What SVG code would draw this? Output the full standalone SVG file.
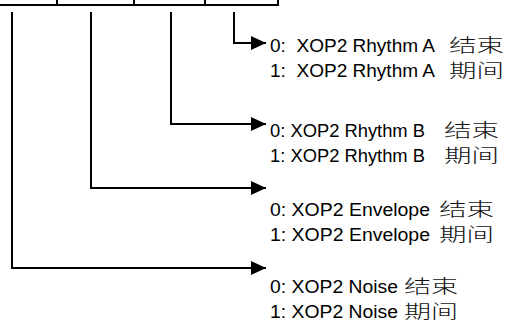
<svg xmlns="http://www.w3.org/2000/svg" width="505" height="325" viewBox="0 0 505 325">
<style>
.ln{fill:none;stroke:#000;stroke-width:2}
.t{font-family:"Liberation Sans",Arial,sans-serif;font-size:17.5px;fill:#000;white-space:pre}
.c{font-family:"Noto Sans CJK SC",sans-serif;font-size:18.5px;font-weight:300;fill:#111}
</style>
<defs>
<marker id="ah" markerUnits="userSpaceOnUse" markerWidth="16" markerHeight="16" viewBox="0 0 16 16" refX="15" refY="8" orient="auto">
<path d="M0,1 L15,8 L0,15 Z" fill="#000"/>
</marker>
</defs>
<g id="register">
<path class="ln" d="M0,5 H279 M57,0 V5 M134,0 V5 M205,0 V5 M278,0 V5"/>
</g>
<g id="connectors">
<path class="ln" d="M234,12 V43 H266" marker-end="url(#ah)"/>
<path class="ln" d="M171,12 V124 H266" marker-end="url(#ah)"/>
<path class="ln" d="M91,12 V188 H266" marker-end="url(#ah)"/>
<path class="ln" d="M12,12 V268 H266" marker-end="url(#ah)"/>
</g>
<g id="rhythmA">
<text class="t" x="270" y="52" textLength="165" lengthAdjust="spacingAndGlyphs">0:  XOP2 Rhythm A</text>
<text class="t c" x="449" y="52" textLength="55" lengthAdjust="spacingAndGlyphs">结束</text>
<text class="t" x="270" y="77" textLength="165" lengthAdjust="spacingAndGlyphs">1:  XOP2 Rhythm A</text>
<text class="t c" x="449" y="77" textLength="55" lengthAdjust="spacingAndGlyphs">期间</text>
</g>
<g id="rhythmB">
<text class="t" x="270" y="137" textLength="155" lengthAdjust="spacingAndGlyphs">0: XOP2 Rhythm B</text>
<text class="t c" x="444" y="137" textLength="55" lengthAdjust="spacingAndGlyphs">结束</text>
<text class="t" x="270" y="162" textLength="155" lengthAdjust="spacingAndGlyphs">1: XOP2 Rhythm B</text>
<text class="t c" x="444" y="162" textLength="55" lengthAdjust="spacingAndGlyphs">期间</text>
</g>
<g id="envelope">
<text class="t" x="270" y="216" textLength="160" lengthAdjust="spacingAndGlyphs">0: XOP2 Envelope</text>
<text class="t c" x="439" y="216" textLength="55" lengthAdjust="spacingAndGlyphs">结束</text>
<text class="t" x="270" y="241" textLength="160" lengthAdjust="spacingAndGlyphs">1: XOP2 Envelope</text>
<text class="t c" x="439" y="241" textLength="55" lengthAdjust="spacingAndGlyphs">期间</text>
</g>
<g id="noise">
<text class="t" x="270" y="293" textLength="128" lengthAdjust="spacingAndGlyphs">0: XOP2 Noise</text>
<text class="t c" x="404" y="293" textLength="54" lengthAdjust="spacingAndGlyphs">结束</text>
<text class="t" x="270" y="318" textLength="128" lengthAdjust="spacingAndGlyphs">1: XOP2 Noise</text>
<text class="t c" x="404" y="318" textLength="54" lengthAdjust="spacingAndGlyphs">期间</text>
</g>
</svg>
